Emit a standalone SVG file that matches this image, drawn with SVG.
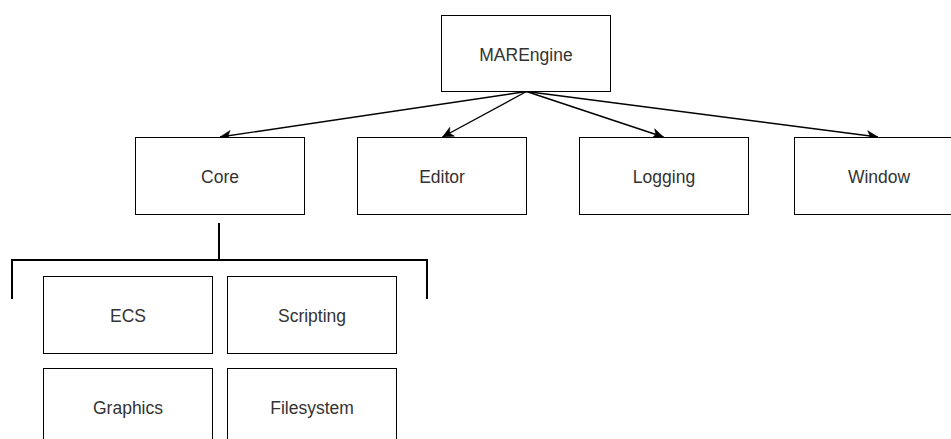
<svg xmlns="http://www.w3.org/2000/svg" width="951" height="439" viewBox="0 0 951 439">
  <style>
    .box { fill: #ffffff; stroke: #000000; stroke-width: 1; }
    .lbl { font-family: "Liberation Sans", Arial, Helvetica, sans-serif; font-size: 17.5px; fill: #333333; text-anchor: middle; }
    .edge { fill: none; stroke: #000000; stroke-width: 1.4; marker-end: url(#classic); }
    .brace { fill: none; stroke: #000000; stroke-width: 2; }
  </style>
  <defs>
    <marker id="classic" markerUnits="userSpaceOnUse" markerWidth="14" markerHeight="14" viewBox="-1 -7 14 14" refX="11" refY="0" orient="auto">
      <path d="M0,-5 L11,0 L0,5 L3,0 Z" fill="#000000" stroke="#000000" stroke-width="0.5"/>
    </marker>
  </defs>
  <rect width="951" height="439" fill="#ffffff"/>

  <!-- connectors from the root module to its sub-modules -->
  <g id="connectors">
    <path class="edge" d="M526.5,91.5 L220,137"/>
    <path class="edge" d="M526.5,91.5 L442.5,137"/>
    <path class="edge" d="M526.5,91.5 L663.5,137"/>
    <path class="edge" d="M526.5,91.5 L878,137"/>
    <!-- bracket grouping the Core sub-systems -->
    <path class="brace" d="M219,223 V260"/>
    <path class="brace" d="M12,299 V260 H427 V299"/>
  </g>

  <g id="marengine">
    <rect class="box" x="441.5" y="15.5" width="169" height="76"/>
    <text class="lbl" x="526" y="61">MAREngine</text>
  </g>
  <g id="core">
    <rect class="box" x="135.5" y="137.5" width="169" height="77"/>
    <text class="lbl" x="220" y="183">Core</text>
  </g>
  <g id="editor">
    <rect class="box" x="357.5" y="137.5" width="169" height="77"/>
    <text class="lbl" x="442" y="183">Editor</text>
  </g>
  <g id="logging">
    <rect class="box" x="579.5" y="137.5" width="169" height="77"/>
    <text class="lbl" x="664" y="183">Logging</text>
  </g>
  <g id="window">
    <rect class="box" x="794.5" y="137.5" width="169" height="77"/>
    <text class="lbl" x="879" y="183">Window</text>
  </g>
  <g id="ecs">
    <rect class="box" x="43.5" y="276.5" width="169" height="77"/>
    <text class="lbl" x="128" y="322">ECS</text>
  </g>
  <g id="scripting">
    <rect class="box" x="227.5" y="276.5" width="169" height="77"/>
    <text class="lbl" x="312" y="322">Scripting</text>
  </g>
  <g id="graphics">
    <rect class="box" x="43.5" y="368.5" width="169" height="77"/>
    <text class="lbl" x="128" y="414">Graphics</text>
  </g>
  <g id="filesystem">
    <rect class="box" x="227.5" y="368.5" width="169" height="77"/>
    <text class="lbl" x="312" y="414">Filesystem</text>
  </g>
</svg>
